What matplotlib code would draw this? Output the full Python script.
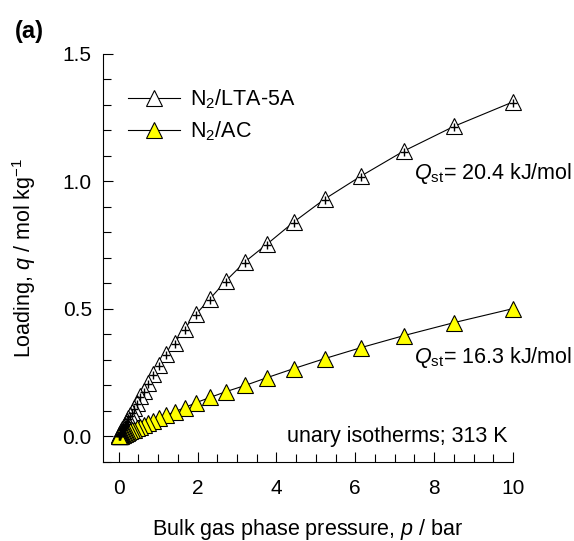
import matplotlib.pyplot as plt
from matplotlib.ticker import MultipleLocator

plt.rcParams['font.family'] = ['Liberation Sans', 'DejaVu Sans']
plt.rcParams['mathtext.fontset'] = 'custom'
plt.rcParams['mathtext.rm'] = 'Liberation Sans'
plt.rcParams['mathtext.it'] = 'Liberation Sans:italic'

# bulk pressure, bar
p = [10.0, 8.5, 7.225, 6.141, 5.220, 4.437, 3.771, 3.206, 2.725, 2.316,
     1.969, 1.673, 1.422, 1.209, 1.028, 0.874, 0.743, 0.631, 0.536, 0.456,
     0.388, 0.329, 0.280, 0.238, 0.202, 0.172, 0.146, 0.124, 0.106, 0.090,
     0.076, 0.065, 0.055, 0.047, 0.040, 0.034, 0.029, 0.024, 0.021, 0.018,
     0.015]

# loadings, mol/kg
q_lta = [1.311, 1.215, 1.118, 1.020, 0.930, 0.840, 0.755, 0.685, 0.611, 0.540,
         0.481, 0.423, 0.368, 0.325, 0.282, 0.243, 0.211, 0.180, 0.157, 0.133,
         0.113, 0.097, 0.083, 0.071, 0.061, 0.052, 0.044, 0.0375, 0.032, 0.0277,
         0.0233, 0.020, 0.017, 0.0144, 0.0123, 0.0105, 0.0089, 0.0074, 0.0065,
         0.0055, 0.0046]
q_ac = [0.501, 0.446, 0.395, 0.348, 0.305, 0.266, 0.231, 0.200, 0.176, 0.153,
        0.133, 0.113, 0.097, 0.083, 0.071, 0.061, 0.052, 0.044, 0.0376, 0.032,
        0.0273, 0.0235, 0.020, 0.017, 0.0144, 0.0123, 0.0104, 0.0088, 0.0076,
        0.0064, 0.0055, 0.0046, 0.0039, 0.0034, 0.0028, 0.0024, 0.0021, 0.0017,
        0.0015, 0.0013, 0.0011]

fs = 15.5

fig = plt.figure(figsize=(5.74, 5.41), dpi=100)
ax = fig.add_axes([0.1794, 0.146, 0.7143, 0.7548])

ax.plot(p, q_lta, '-', color='black', lw=0.8, marker='^', ms=11,
        mfc='white', mec='black', mew=0.8, clip_on=False, zorder=3,
        label='N$_2$/LTA-5A')
ax.plot(p, [q - 0.004 for q in q_lta], '+', color='black', ms=6, mew=1.0,
        clip_on=False, zorder=4)
ax.plot(p, q_ac, '-', color='black', lw=0.8, marker='^', ms=11,
        mfc='#ffff00', mec='black', mew=0.8, clip_on=False, zorder=3,
        label='N$_2$/AC')

ax.set_xlim(-0.4, 10)
ax.set_ylim(-0.1, 1.5)
ax.xaxis.set_major_locator(MultipleLocator(2))
ax.xaxis.set_minor_locator(MultipleLocator(0.5))
ax.yaxis.set_major_locator(MultipleLocator(0.5))
ax.yaxis.set_minor_locator(MultipleLocator(0.1))
ax.set_xticks([0, 2, 4, 6, 8, 10])
ax.set_yticks([0.0, 0.5, 1.0, 1.5])
ax.set_yticklabels(['0.0', '0.5', '1.0', '1.5'])
ax.tick_params(which='both', direction='in', labelsize=15, width=0.8)
ax.tick_params(which='major', length=7)
ax.tick_params(which='minor', length=6)
ax.tick_params(axis='x', pad=12)
ax.tick_params(axis='y', pad=8)
ax.spines['top'].set_visible(False)
ax.spines['right'].set_visible(False)
ax.spines['left'].set_bounds(-0.1, 1.5)

ax.set_ylabel('Loading, $q$ / mol kg$^{-1}$', fontsize=fs, labelpad=18)
fig.text(0.536, 0.022, 'Bulk gas phase pressure, $p$ / bar', fontsize=fs,
         ha='center', va='center')

ax.legend(loc='upper left', bbox_to_anchor=(0.041, 0.938), borderaxespad=0,
          frameon=False, fontsize=fs, handlelength=2.4, handletextpad=0.45,
          labelspacing=0.4)

ax.text(7.5, 1.03, '$Q_{\\mathrm{st}}$= 20.4 kJ/mol', fontsize=fs, ha='left', va='center')
ax.text(7.5, 0.31, '$Q_{\\mathrm{st}}$= 16.3 kJ/mol', fontsize=fs, ha='left', va='center')
ax.text(9.85, 0.0, 'unary isotherms; 313 K', fontsize=fs, ha='right', va='center')

fig.text(0.026, 0.941, '(a)', fontsize=17, fontweight='bold', va='center')

fig.savefig('out.png', dpi=100)
